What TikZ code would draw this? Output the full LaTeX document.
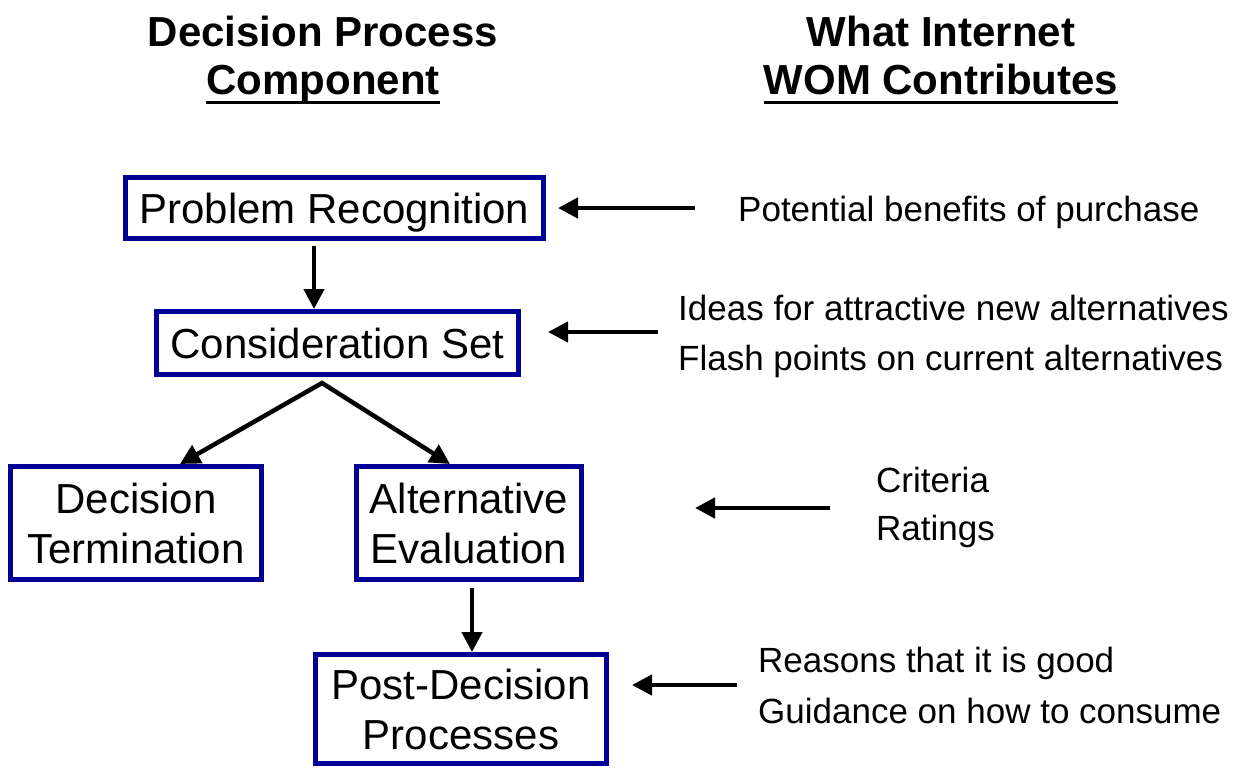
\documentclass[tikz,border=0pt]{standalone}
\usepackage{fontspec}
\setmainfont{Liberation Sans}
\usetikzlibrary{arrows.meta,calc}
\definecolor{boxblue}{RGB}{0,0,150}
\newcommand{\hdrul}[1]{\setbox0\hbox{#1}\rlap{\rule[-10pt]{\wd0}{3pt}}\box0}
\begin{document}
\begin{tikzpicture}[x=1pt,y=-1pt,
  box/.style={draw=boxblue, line width=5pt, inner sep=0pt, align=center,
    font=\fontsize{42}{50}\selectfont},
  tip/.tip={Triangle[length=20pt,width=20pt]},
  arr/.style={line width=4.5pt, -tip},
  side/.style={font=\fontsize{35}{50}\selectfont, align=left, anchor=base west, inner sep=0pt},
  head/.style={font=\bfseries\fontsize{42}{48}\selectfont, align=center, anchor=base, inner sep=0pt}]
\useasboundingbox (0,0) rectangle (1235,772);

% headers (anchor = baseline of last line)
\node[head] (h1) at (323,94) {Decision Process\\\hdrul{Component}};
\node[head] (h2) at (941,94) {What Internet\\\hdrul{WOM Contributes}};

% boxes
\node[box, minimum width=418pt, minimum height=61pt, text depth=0pt] (pr) at (334.5,208) {Problem Recognition};
\node[box, minimum width=362pt, minimum height=63pt, text depth=0pt] (cs) at (337.5,343) {Consideration Set};
\node[box, minimum width=251pt, minimum height=113pt] (dt) at (136,523) {Decision\\Termination};
\node[box, minimum width=225pt, minimum height=113pt] (ae) at (469,523) {Alternative\\Evaluation};
\node[box, minimum width=291pt, minimum height=109pt] (pdp) at (461,709) {Post-Decision\\Processes};

% side texts (anchor = baseline of last line)
\node[side] (ben) at (738,221) {Potential benefits of purchase};
\node[side] (ide) at (678,370) {Ideas for attractive new alternatives\\Flash points on current alternatives};
\node[side, font=\fontsize{35}{48}\selectfont] (cri) at (876,540) {Criteria\\Ratings};
\node[side, font=\fontsize{35}{51}\selectfont] (rea) at (758,723) {Reasons that it is good\\Guidance on how to consume};

% flow connectors
\draw[arr] ([xshift=-20.5pt,yshift=-5pt]pr.south) -- ([xshift=-23.5pt]cs.north);
\coordinate (apex) at ([xshift=-15.5pt,yshift=-6pt]cs.south);
\draw[line width=4.5pt, tip-tip, line join=miter] ([xshift=44pt]dt.north) -- (apex) -- ([xshift=-19pt]ae.north);
\draw[arr] ([xshift=3pt,yshift=-6pt]ae.south) -- ([xshift=11pt]pdp.north);

% contribution arrows
\coordinate (t1) at (695,208);
\coordinate (t2) at (658,332);
\coordinate (t3) at (830,508);
\coordinate (t4) at (737,685);
\draw[arr, shorten >=12pt] (t1) -- (t1 -| pr.east);
\draw[arr, shorten >=27pt] (t2) -- (t2 -| cs.east);
\draw[arr, shorten >=111pt] (t3) -- (t3 -| ae.east);
\draw[arr, shorten >=23pt] (t4) -- (t4 -| pdp.east);
\end{tikzpicture}
\end{document}
